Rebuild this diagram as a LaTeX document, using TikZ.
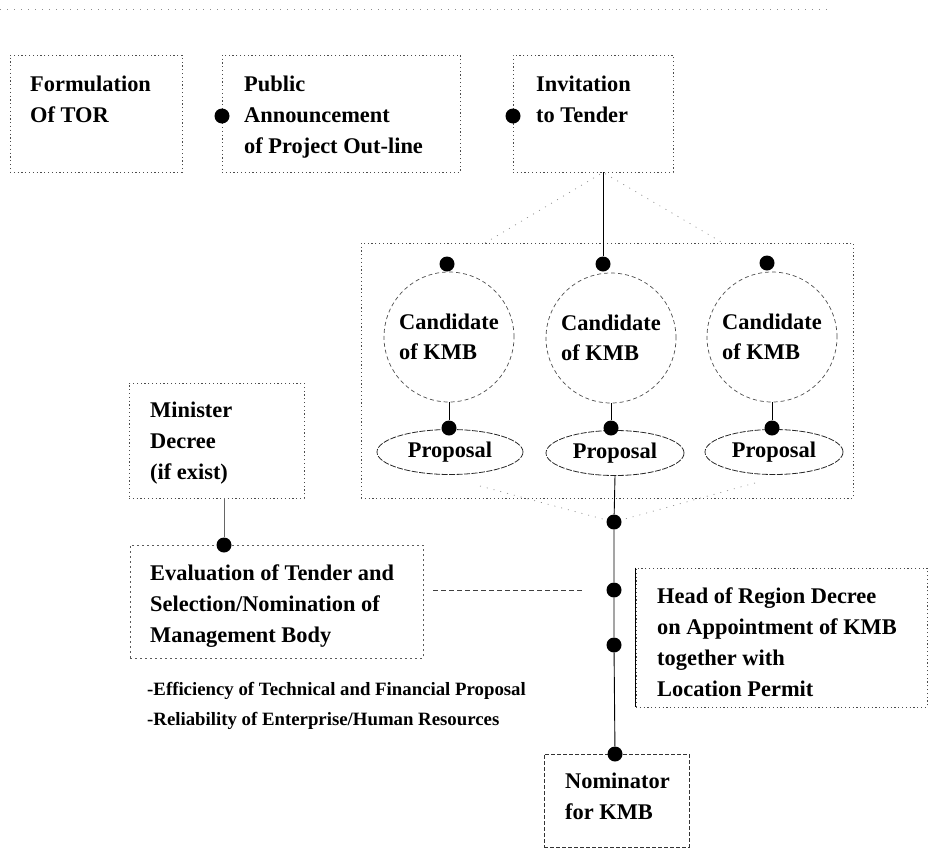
\documentclass[tikz,border=0pt]{standalone}
\usepackage{fontspec}
\setmainfont{Liberation Serif}
\usetikzlibrary{shapes.geometric}
\newcommand{\txtlines}[1]{\begin{tabular}[t]{@{}l@{}}#1\end{tabular}}
\tikzset{
  lbl/.style={anchor=base west, inner sep=0pt,
    font=\bfseries\fontsize{22.4}{31}\selectfont},
  smalllbl/.style={anchor=base west, inner sep=0pt,
    font=\bfseries\fontsize{18.8}{30}\selectfont},
  dotbox/.style={rectangle, draw=black!70, line width=0.8pt,
    dash pattern=on 1.2pt off 2.6pt, inner sep=0pt},
  dashbox/.style={rectangle, draw=black!80, line width=0.8pt,
    dash pattern=on 4pt off 2pt, inner sep=0pt},
  cand/.style={circle, draw=black!70, line width=0.7pt,
    dash pattern=on 4pt off 3pt, minimum size=130pt, inner sep=0pt,
    font=\bfseries\fontsize{22.4}{30}\selectfont, align=left},
  prop/.style={ellipse, draw=black!85, line width=0.8pt,
    dash pattern=on 6pt off 1.5pt, minimum height=45pt, inner sep=0pt,
    font=\bfseries\fontsize{22.4}{30}\selectfont},
  marker/.style={circle, fill=black, inner sep=0pt, minimum size=15pt},
  link/.style={draw=black, line width=0.9pt},
  lightlink/.style={draw=black!60, line width=0.8pt},
  dashlink/.style={draw=black!75, line width=0.8pt, dash pattern=on 5pt off 3pt},
  faint/.style={draw=black!45, line width=0.7pt, dash pattern=on 1pt off 6pt},
}
\begin{document}
\begin{tikzpicture}[x=1pt, y=-1pt]
\useasboundingbox (0,0) rectangle (935,852);

% faint rule along the top edge
\coordinate (hdL) at (0,9);
\coordinate (hdR) at (830,9);
\draw[faint] (hdL) -- (hdR);

% top row of steps
\node[dotbox, minimum width=172pt, minimum height=117pt] (tor) at (96,113.5) {};
\node[lbl] (ttor) at (30,91) {\txtlines{Formulation\\Of TOR}};

\node[dotbox, minimum width=238pt, minimum height=117pt] (pub) at (341,113.5) {};
\node[lbl] (tpub) at (244,91) {\txtlines{Public\\Announcement\\of Project Out-line}};
\node[marker] (mpub) at (222,116) {};

\node[dotbox, minimum width=160pt, minimum height=117pt] (inv) at (593,113.5) {};
\node[lbl] (tinv) at (536,91) {\txtlines{Invitation\\to Tender}};
\node[marker] (minv) at (513,116) {};

% group of candidates
\node[dotbox, minimum width=492pt, minimum height=255pt] (grp) at (607,370.5) {};

\node[cand] (c1) at (449,337) {Candidate\\of KMB};
\node[cand] (c2) at (611,338) {Candidate\\of KMB};
\node[cand] (c3) at (772,337) {Candidate\\of KMB};

\node[prop, minimum width=146pt] (e1) at (450,452) {Proposal};
\node[prop, minimum width=138pt] (e2) at (615,453) {Proposal};
\node[prop, minimum width=138pt] (e3) at (774,452) {Proposal};

\node[marker] (mt1) at (447,264) {};
\node[marker] (mt2) at (603,264) {};
\node[marker] (mt3) at (767,263) {};
\node[marker] (mp1) at (449,428) {};
\node[marker] (mp2) at (611,428) {};
\node[marker] (mp3) at (772,428) {};

% funnel lines into and out of the group
\coordinate (roofL) at (485,243);
\coordinate (roofR) at (723,243);
\coordinate (fL) at (480,486);
\coordinate (fR) at (755,483);

% decree and evaluation
\node[dotbox, minimum width=175pt, minimum height=115pt] (mins) at (216.5,440.5) {};
\node[lbl] (tmins) at (150,417) {\txtlines{Minister\\Decree\\(if exist)}};

\node[dashbox, minimum width=293pt, minimum height=113pt, draw=black!65,
  dash pattern=on 2pt off 3pt] (evl) at (276.5,601.5) {};
\node[lbl] (tevl) at (150,580) {\txtlines{Evaluation of Tender and\\Selection/Nomination of\\Management Body}};
\node[marker] (me) at (224,545) {};

\node[smalllbl] (crit) at (147,695) {\txtlines{-Efficiency of Technical and Financial Proposal\\-Reliability of Enterprise/Human Resources}};

\node[dotbox, minimum width=291pt, minimum height=139pt] (head) at (781.5,637.5) {};
\draw[line width=1.1pt] (head.north west) -- (head.south west);
\node[lbl] (thead) at (657,603) {\txtlines{Head of Region Decree\\on Appointment of KMB\\together with\\Location Permit}};

\node[dashbox, minimum width=145pt, minimum height=93pt] (nom) at (616.5,800.5) {};
\node[lbl] (tnom) at (565,788) {\txtlines{Nominator\\for KMB}};

% markers on the main line
\node[marker] (ma) at (614,522) {};
\node[marker] (mb) at (614,590) {};
\node[marker] (mc) at (614,645) {};
\node[marker] (mN) at (615,754) {};

% connectors
\draw[link] (inv.south -| mt2) -- (mt2);
\draw[faint] (roofL) -- (inv.south -| mt2) -- (roofR);
\draw[link] (c1.south) -- (mp1);
\draw[link] (c2.south) -- (mp2);
\draw[link] (c3.south) -- (mp3);
\draw[link] (e2.south) -- (ma) -- (mb) -- (mc) -- (mN);
\draw[faint] (fL) -- (ma);
\draw[faint] (fR) -- (ma);
\draw[lightlink] (mins.south -| me) -- (me);
\draw[dashlink, shorten <=10pt, shorten >=23pt] (evl.east |- mb) -- (mb);
\end{tikzpicture}
\end{document}
